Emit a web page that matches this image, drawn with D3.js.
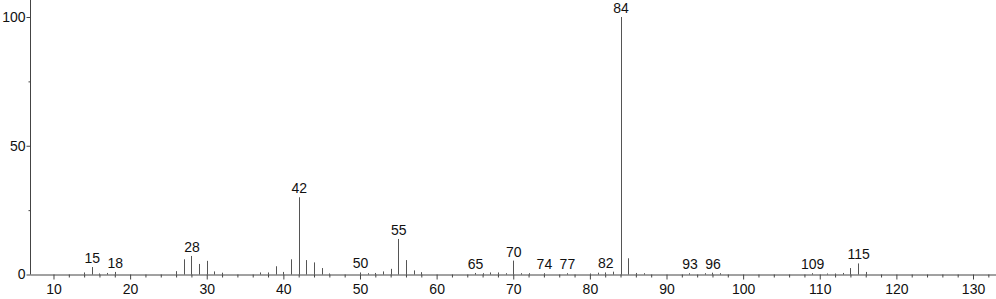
<!DOCTYPE html>
<html>
<head>
<meta charset="utf-8">
<script src="https://cdn.jsdelivr.net/npm/d3@7"></script>
<style>
  html, body { margin: 0; padding: 0; background: #fff; }
  svg { display: block; }
  text { font-family: "Liberation Sans", Arial, sans-serif; }
</style>
</head>
<body>
<div id="chart"></div>
<script>
// m/z values of the peaks
const mz = [14, 15, 16, 17, 18, 26, 27, 28, 29, 30, 31, 32,
            37, 38, 39, 40, 41, 42, 43, 44, 45, 46,
            50, 51, 52, 53, 54, 55, 56, 57, 58,
            65, 66, 67, 68, 69, 70, 71, 72, 74, 77, 80, 81, 82, 83,
            84, 85, 86, 87, 93, 95, 96, 97,
            109, 111, 112, 113, 114, 115, 116];
// relative intensities (%)
const intensity = [0.8, 2.9, 0.4, 0.6, 1.0, 1.3, 5.9, 7.2, 4.1, 5.3, 1.2, 0.7,
                   0.8, 0.8, 3.2, 1.0, 5.9, 30.0, 5.6, 4.7, 2.5, 0.4,
                   0.8, 0.5, 0.6, 1.2, 2.2, 13.8, 5.6, 1.6, 0.9,
                   0.6, 0.5, 0.8, 0.8, 0.5, 5.4, 0.5, 0.5, 0.5, 0.5, 0.4, 0.7, 0.8, 1.1,
                   100, 6.3, 0.6, 0.5, 0.5, 0.5, 0.7, 0.5,
                   0.5, 0.4, 0.4, 0.6, 2.5, 4.3, 1.0];
// peaks carrying an m/z label
const labeledPeaks = [15, 18, 28, 42, 50, 55, 65, 70, 74, 77, 82, 84, 93, 96, 109, 115];
// axis ticks
const xMajorTicks = [10, 20, 30, 40, 50, 60, 70, 80, 90, 100, 110, 120, 130];
const xMinorTicks = d3.range(12, 133, 2).filter(v => v % 10 !== 0);
const yMajorTicks = [0, 50, 100];
const yMinorTicks = [25, 75];

const W = 996, H = 299;
const FS = 14;
const svg = d3.select("#chart").append("svg").attr("width", W).attr("height", H);

const x = d3.scaleLinear().domain([7, 133]).range([30.5, 996]);
const y = d3.scaleLinear().domain([0, 100]).range([274.5, 17]);
const yTop = y.invert(0);

const axisColor = "#444";
const peakColor = "#555";

// peaks
const peaks = mz.map((m, i) => ({ m, v: intensity[i] }));
svg.append("g").selectAll("line").data(peaks).join("line")
  .attr("x1", d => Math.round(x(d.m)) + 0.5)
  .attr("x2", d => Math.round(x(d.m)) + 0.5)
  .attr("y1", y(0))
  .attr("y2", d => y(d.v))
  .attr("stroke", peakColor)
  .attr("stroke-width", 1);

// X axis
const gx = svg.append("g").attr("transform", `translate(0,${y(0)})`);
gx.call(d3.axisBottom(x).tickValues(xMajorTicks).tickSize(5).tickPadding(5).tickFormat(d3.format("d")));
const gxm = svg.append("g").attr("transform", `translate(0,${y(0)})`);
gxm.call(d3.axisBottom(x).tickValues(xMinorTicks).tickSize(3).tickFormat(""));
gxm.select(".domain").remove();

// Y axis
const yFull = d3.scaleLinear().domain([0, yTop]).range([274.5, 0]);
const gy = svg.append("g").attr("transform", `translate(30.5,0)`);
gy.call(d3.axisLeft(yFull).tickValues(yMajorTicks).tickSize(4).tickPadding(1).tickFormat(d3.format("d")));
const gym = svg.append("g").attr("transform", `translate(30.5,0)`);
gym.call(d3.axisLeft(yFull).tickValues(yMinorTicks).tickSize(2).tickFormat(""));
gym.select(".domain").remove();

svg.selectAll(".domain").attr("stroke", axisColor);
gx.select(".domain").attr("d", `M30.5,0.5H996`);
gy.select(".domain").attr("d", `M0,0V274.5`);
svg.selectAll(".tick line").attr("stroke", axisColor);
svg.selectAll(".tick text").attr("font-size", FS).attr("fill", "#111")
  .attr("font-family", "'Liberation Sans', Arial, sans-serif");

// peak labels
svg.append("g").selectAll("text")
  .data(peaks.filter(d => labeledPeaks.includes(d.m)))
  .join("text")
  .attr("x", d => x(d.m) + 0.5)
  .attr("y", d => y(d.v) - 4)
  .attr("text-anchor", "middle")
  .attr("font-size", FS)
  .attr("fill", "#111")
  .text(d => d.m);
</script>
</body>
</html>
